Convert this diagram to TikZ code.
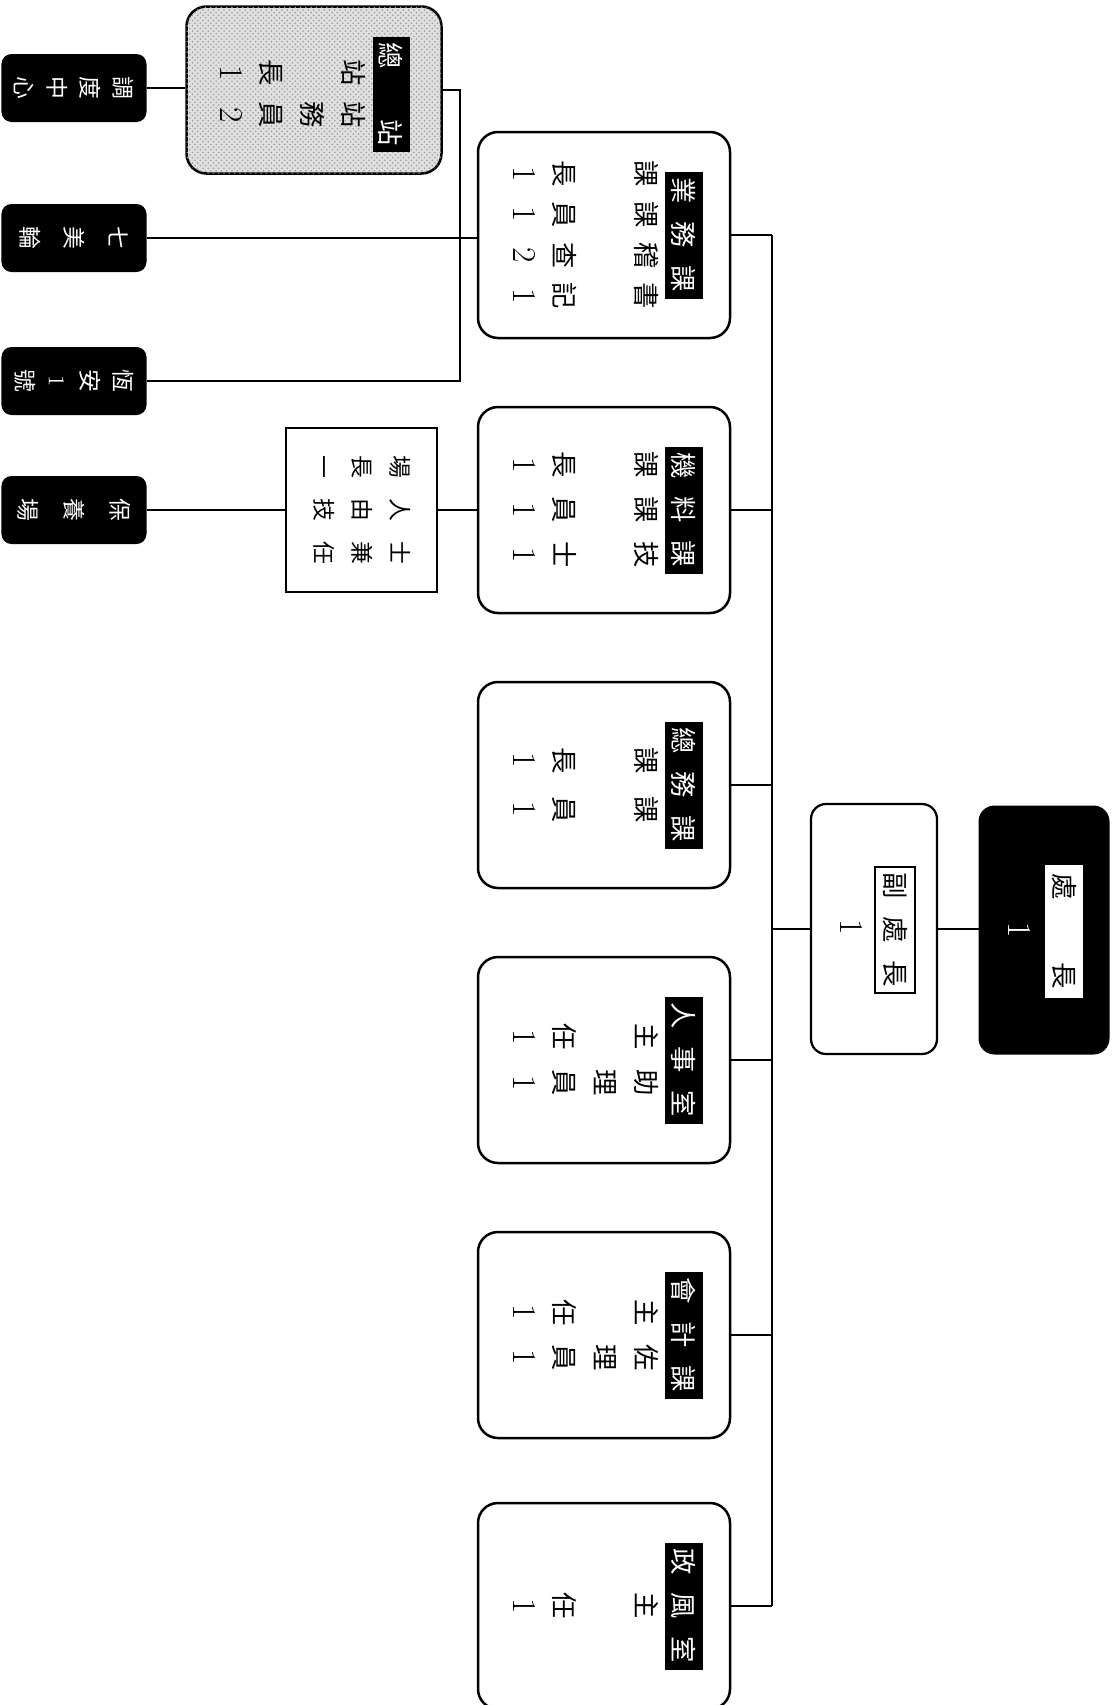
\documentclass[tikz,border=0pt]{standalone}
\usepackage{fontspec}
\newfontfamily\cjk{Noto Sans CJK TC}
\usetikzlibrary{patterns}
\newcommand\hgap{\hspace{10pt}}
\newcommand\nr[1]{{\rmfamily\fontsize{19}{23.2}\selectfont #1}}
\tikzset{
	cjkfont/.style={font=\cjk\fontsize{15}{23.2}\selectfont},
	smallfont/.style={font=\cjk\fontsize{13}{18.7}\selectfont},
	link/.style={line width=0.35mm},
	busline/.style={line width=0.5mm},
	bossbox/.style={draw, fill=black, line width=0.4mm, rounded corners=3mm, minimum width=49.4mm, minimum height=25.8mm},
	vicebox/.style={draw, fill=white, line width=0.45mm, rounded corners=3mm, minimum width=50mm, minimum height=25.2mm},
	titlebox/.style={cjkfont, draw, fill=white, line width=0.3mm, inner sep=0pt},
	deptbox/.style={draw, fill=white, line width=0.5mm, rounded corners=4mm, minimum width=41.2mm, minimum height=50.4mm},
	depthead/.style={cjkfont, fill=black, text=white, inner sep=0pt, minimum width=25.4mm, minimum height=7.6mm},
	deptbody/.style={cjkfont, inner sep=0pt},
	stationbox/.style={smallfont, fill=black, text=white, rounded corners=2mm, align=center, inner sep=0pt, minimum width=13.6mm, minimum height=29mm},
	depotbox/.style={draw, fill=black!12, line width=0.5mm, rounded corners=4mm, minimum width=33.4mm, minimum height=51mm,
		postaction={pattern=crosshatch dots, pattern color=black!40}},
	notebox/.style={draw, fill=white, line width=0.4mm, inner sep=0pt, minimum width=32.8mm, minimum height=30.2mm,
		font=\cjk\fontsize{13}{21.5}\selectfont},
}
\def\dept(#1)#2#3#4{%
	\node[deptbox] (#2) at (604,#1) {};
	\node[depthead] (#2-head) at (684,#1) {#3};
	\node[deptbody] (#2-body) at (583,#1) {#4};
	\draw[link] (#2.north) -- (#2.north -| bus);
}

\begin{document}
\begin{tikzpicture}[x=0.2mm, y=-0.2mm, every node/.style={rotate=-90}]
	\path[use as bounding box, fill=white] (0,0) rectangle (1113,1705);
	
	%%%%% HEAD %%%%%
	\node[bossbox] (boss) at (1044,930) {};
	\node[titlebox, draw=none, minimum width=26.6mm, minimum height=7.6mm] (boss-title) at (1064,931) {處\hspace{36pt}長};
	\node[cjkfont, text=white] (boss-num) at (1020,930) {\nr1};
	
	\node[vicebox] (vice) at (874,929) {};
	\node[titlebox, minimum width=25.2mm, minimum height=8mm] (vice-title) at (895,930) {副\hgap 處\hgap 長};
	\node[cjkfont] (vice-num) at (852,927) {\nr1};
	
	\coordinate (bus) at (772,0);
	\draw[link] (vice.north) -- (vice.north -| boss.south);
	\draw[link] (vice.south) -- (vice.south -| bus);
	
	%%%%% DEPARTMENTS %%%%%
	\dept(235){yewu}{業\hgap 務\hgap 課}{\setlength\tabcolsep{4.1pt}\begin{tabular}{cccc}課&課&稽&書\\&&&\\長&員&查&記\\\nr1&\nr1&\nr2&\nr1\end{tabular}}
	\dept(510){jiliao}{機\hgap 料\hgap 課}{\setlength\tabcolsep{5.3pt}\begin{tabular}{ccc}課&課&技\\&&\\長&員&士\\\nr1&\nr1&\nr1\end{tabular}}
	\dept(785){zongwu}{總\hgap 務\hgap 課}{\setlength\tabcolsep{6.5pt}\begin{tabular}{cc}課&課\\&\\長&員\\\nr1&\nr1\end{tabular}}
	\dept(1060){renshi}{人\hgap 事\hgap 室}{\setlength\tabcolsep{5.5pt}\begin{tabular}{cc}主&助\\&理\\任&員\\\nr1&\nr1\end{tabular}}
	\dept(1335){kuaiji}{會\hgap 計\hgap 課}{\setlength\tabcolsep{5.3pt}\begin{tabular}{cc}主&佐\\&理\\任&員\\\nr1&\nr1\end{tabular}}
	\dept(1606){zhengfeng}{政\hgap 風\hgap 室}{\begin{tabular}{c}主\\ \\任\\\nr1\end{tabular}}
	
	\draw[busline] (yewu.north -| bus) -- (zhengfeng.north -| bus);
	
	%%%%% STATIONS %%%%%
	\node[depotbox] (zongzhan) at (314,90) {};
	\node[depthead, minimum width=23mm, minimum height=7.4mm] (zongzhan-head) at (391,94) {總\hspace{29pt}站};
	\node[deptbody] (zongzhan-body) at (290,94) {\setlength\tabcolsep{4.4pt}\begin{tabular}{cc}站&站\\&務\\長&員\\\nr1&\nr2\end{tabular}};
	
	\node[notebox] (note) at (361,510) {\setlength\tabcolsep{5.8pt}\begin{tabular}{ccc}場&人&士\\長&由&兼\\一&技&任\end{tabular}};
	
	\node[stationbox] (diaodu) at (74,88) {調\\度\\中\\心};
	\node[stationbox] (qimei) at (74,238) {七\\[6.5pt]美\\[6.5pt]輪};
	\node[stationbox] (hengan) at (74,381) {恆\\安\\{\rmfamily 1}\\號};
	\node[stationbox] (baoyang) at (74,510) {保\\[7.5pt]養\\[7.5pt]場};
	
	\draw[link] (diaodu.north) -- (diaodu.north -| zongzhan.south);
	\draw[link] (zongzhan.north) -- ++(17,0) |- (hengan.north);
	\draw[link] (qimei.north) -- (qimei.north -| yewu.south);
	\draw[link] (jiliao.south) -- (note.north);
	\draw[link] (note.south) -- (baoyang.north);
	
\end{tikzpicture}
\end{document}
